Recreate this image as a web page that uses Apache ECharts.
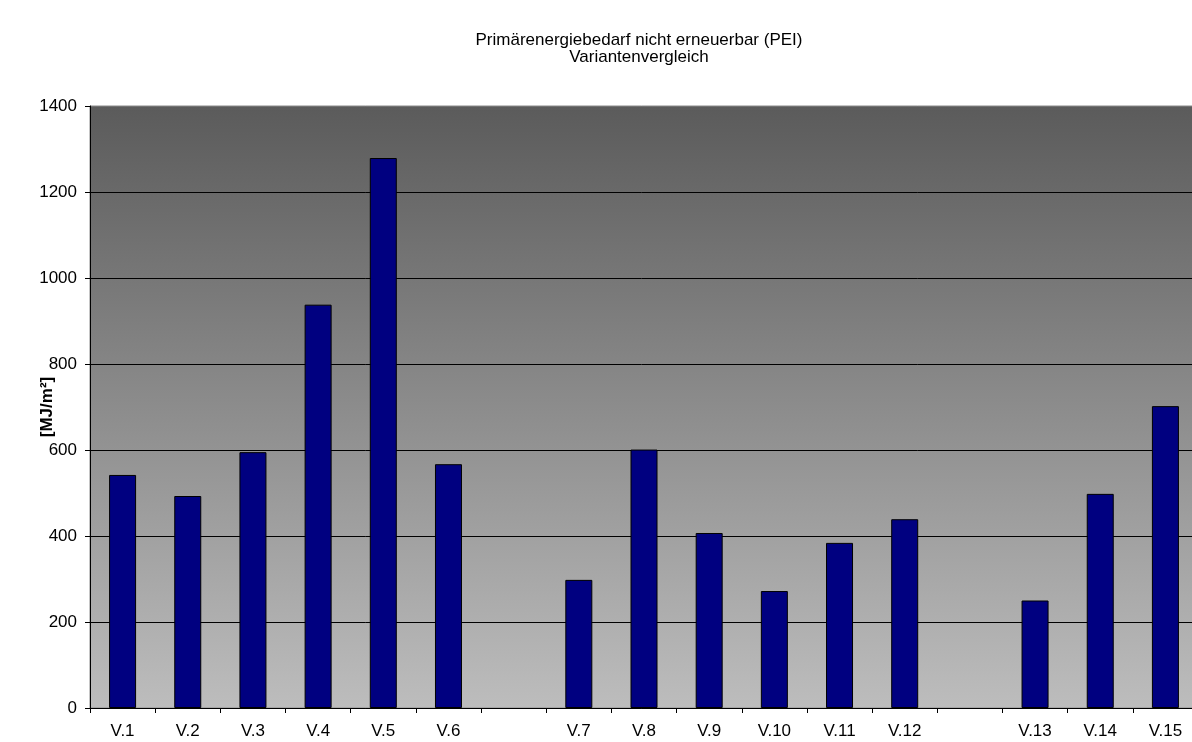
<!DOCTYPE html>
<html>
<head>
<meta charset="utf-8">
<script src="https://cdn.jsdelivr.net/npm/echarts@6/dist/echarts.min.js"></script>
<style>
  html, body { margin: 0; padding: 0; background: #ffffff; }
  #chart { width: 1192px; height: 742px; }
</style>
</head>
<body>
<div id="chart"></div>
<script>
// Variants (empty entries are spacer columns between groups)
const categories = ['V.1', 'V.2', 'V.3', 'V.4', 'V.5', 'V.6', '', 'V.7', 'V.8', 'V.9', 'V.10', 'V.11', 'V.12', '', 'V.13', 'V.14', 'V.15'];
// Non-renewable primary energy demand in MJ/m²
const peiValues = [542, 493, 595, 938, 1279, 567, null, 298, 601, 407, 272, 384, 439, null, 250, 498, 702];
const yTicks = { min: 0, max: 1400, interval: 200 };

const chart = echarts.init(document.getElementById('chart'), null, { renderer: 'canvas' });
const font = '"Liberation Sans", Arial, sans-serif';
const fs = 17;

chart.setOption({
  animation: false,
  backgroundColor: '#ffffff',
  title: {
    text: 'Primärenergiebedarf nicht erneuerbar (PEI)\nVariantenvergleich',
    left: 634,
    top: 27,
    textAlign: 'center',
    textStyle: { fontFamily: font, fontSize: fs, fontWeight: 'normal', color: '#000', lineHeight: 17 }
  },
  grid: {
    left: 90,
    top: 106,
    width: 1108,
    height: 602,
    outerBoundsMode: 'none',
    containLabel: false,
    show: true,
    borderColor: '#8a8a8a',
    borderWidth: 1,
    backgroundColor: new echarts.graphic.LinearGradient(0, 0, 0, 1, [
      { offset: 0, color: '#5b5b5b' },
      { offset: 1, color: '#bdbdbd' }
    ])
  },
  xAxis: {
    type: 'category',
    data: categories,
    axisLine: { lineStyle: { color: '#000', width: 1 } },
    axisTick: { show: true, interval: 0, length: 5, lineStyle: { color: '#000' } },
    axisLabel: { interval: 0, margin: 15, fontFamily: font, fontSize: fs, color: '#000' },
    splitLine: { show: false }
  },
  yAxis: {
    type: 'value',
    min: yTicks.min,
    max: yTicks.max,
    interval: yTicks.interval,
    name: '[MJ/m²]',
    nameLocation: 'middle',
    nameGap: 34,
    nameMoveOverlap: false,
    nameTextStyle: { fontFamily: font, fontSize: fs, fontWeight: 'bold', color: '#000' },
    axisLine: { show: true, lineStyle: { color: '#000', width: 1 } },
    axisTick: { show: true, length: 5, lineStyle: { color: '#000' } },
    axisLabel: { margin: 13, fontFamily: font, fontSize: fs, color: '#000', formatter: v => String(v) },
    splitLine: { show: true, showMaxLine: false, lineStyle: { color: '#000', width: 1 } }
  },
  series: [{
    type: 'bar',
    data: peiValues,
    barWidth: 27,
    itemStyle: { color: '#000080', borderColor: '#000', borderWidth: 1 }
  }]
});
</script>
</body>
</html>
